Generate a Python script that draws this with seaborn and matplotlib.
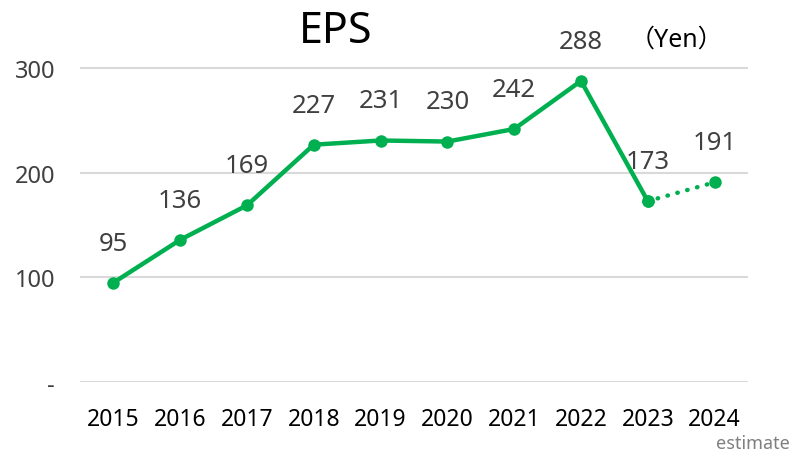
import matplotlib
matplotlib.use("Agg")
import matplotlib.pyplot as plt
import seaborn as sns
import pandas as pd

years = [2015, 2016, 2017, 2018, 2019, 2020, 2021, 2022, 2023, 2024]
eps = [95, 136, 169, 227, 231, 230, 242, 288, 173, 191]
actual_n = 9  # 2024 is an estimate
y_ticks = [0, 100, 200, 300]
y_tick_labels = ['-', '100', '200', '300']

sns.set_theme(style='white')
plt.rcParams['font.family'] = ['Noto Sans', 'Noto Sans CJK JP', 'DejaVu Sans']

green = '#00B050'
text_col = '#404040'

fig = plt.figure(figsize=(7.95, 4.56), dpi=100)
ax = fig.add_axes([80 / 795, (456 - 383) / 456, (748 - 80) / 795, (383 - 38) / 456])

df = pd.DataFrame({'year': years, 'eps': eps})
actual = df.iloc[:actual_n]
est = df.iloc[actual_n - 1:]

sns.lineplot(data=actual, x='year', y='eps', color=green, linewidth=3.2,
             marker='o', markersize=9, markeredgewidth=0, ax=ax)
sns.lineplot(data=est, x='year', y='eps', color=green, linewidth=3.2,
             linestyle=(0, (0.1, 2.2)), dash_capstyle='round',
             marker='o', markersize=9, markeredgewidth=0, ax=ax)

for x, y in zip(years, eps):
    ax.annotate(str(y), (x, y), xytext=(0, 28.5), textcoords='offset points',
                ha='center', va='center', fontsize=18.5, color=text_col)

ax.set_xlim(2014.5, 2024.5)
ax.set_ylim(0, 330)
ax.set_xticks(years)
ax.set_xticklabels([str(y) for y in years], fontsize=16.5, color='black')
ax.set_yticks(y_ticks)
ax.set_yticklabels(y_tick_labels, fontsize=17, color=text_col)
ax.tick_params(axis='both', length=0)
ax.tick_params(axis='x', pad=18)
ax.tick_params(axis='y', pad=18)
ax.grid(axis='y', color='#d9d9d9', linewidth=1.5)
ax.grid(axis='x', visible=False)
for s in ax.spines.values():
    s.set_visible(False)
ax.set_xlabel('')
ax.set_ylabel('')

fig.text(336 / 795, 1 - 32 / 456, 'EPS', ha='center', va='center', fontsize=31, color='black')
fig.text(676 / 795, 1 - 40 / 456, '（Yen）', ha='center', va='center', fontsize=18, color='black')
fig.text(753 / 795, 1 - 444 / 456, 'estimate', ha='center', va='center', fontsize=13, color='#7f7f7f')

fig.savefig('out.png', dpi=100)
